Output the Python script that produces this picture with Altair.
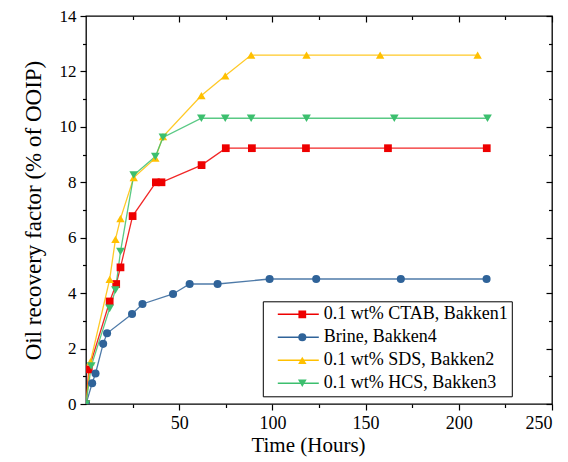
import altair as alt
import pandas as pd

# ---- data ----
names = ["0.1 wt% CTAB, Bakken1", "Brine, Bakken4", "0.1 wt% SDS, Bakken2", "0.1 wt% HCS, Bakken3"]
colors = ["#EE0000", "#2F6399", "#FFC000", "#3CBF6E"]
shapes = ["square", "circle", "triangle-up", "triangle-down"]
sizes = [60, 76, 110, 100]

t_ctab = [0, 1.5, 12.7, 16.2, 18.5, 25.0, 37.5, 40.5, 62.0, 75.0, 89.0, 118.0, 162.0, 215.0]
v_ctab = [0, 1.25, 3.70, 4.33, 4.93, 6.78, 8.00, 8.00, 8.62, 9.23, 9.23, 9.23, 9.23, 9.23]

t_brine = [0, 3.3, 5.1, 9.2, 11.3, 24.7, 30.3, 46.7, 55.6, 70.6, 98.5, 123.5, 168.9, 214.9]
v_brine = [0, 0.75, 1.10, 2.17, 2.55, 3.25, 3.61, 3.97, 4.33, 4.33, 4.51, 4.51, 4.51, 4.51]

t_sds = [0, 2.4, 12.7, 15.8, 18.5, 25.6, 37.2, 41.3, 61.9, 74.7, 88.6, 118.3, 157.8, 210.1]
v_sds = [0, 1.53, 4.50, 5.94, 6.69, 8.17, 8.87, 9.65, 11.13, 11.84, 12.59, 12.59, 12.59, 12.59]

t_hcs = [0, 2.8, 12.7, 15.8, 18.5, 25.6, 37.2, 41.3, 61.9, 74.7, 88.6, 118.3, 165.4, 215.4]
v_hcs = [0, 1.37, 3.45, 4.11, 5.50, 8.26, 8.93, 9.62, 10.31, 10.31, 10.31, 10.31, 10.31, 10.31]

x_major = [50, 100, 150, 200, 250]
x_minor = [25, 75, 125, 175, 225]
y_major = [0, 2, 4, 6, 8, 10, 12, 14]
y_minor = [1, 3, 5, 7, 9, 11, 13]

# ---- table ----
rows = []
for name, ts, vs in zip(names, [t_ctab, t_brine, t_sds, t_hcs], [v_ctab, v_brine, v_sds, v_hcs]):
    for t, v in zip(ts, vs):
        rows.append({"t": t, "v": v, "series": name, "pt": name + " "})
df = pd.DataFrame(rows)
pt_names = [n + " " for n in names]

W, H = 466, 388
FONT = "Liberation Serif"

xs = alt.Scale(domain=[0, 250], nice=False, zero=False)
ys = alt.Scale(domain=[0, 14], nice=False, zero=False)

LX, LY = 176.8, 285.3

leg_common = dict(
    title=None, orient="none", legendX=LX, legendY=LY,
    labelFont=FONT, labelFontSize=18, labelLimit=0,
    rowPadding=3, padding=3, clipHeight=20,
)
leg_lines = alt.Legend(
    symbolType="stroke", symbolSize=1681, symbolStrokeWidth=1.5,
    labelColor="black", labelOffset=4, symbolOffset=11,
    strokeColor="black", **leg_common,
)
leg_pts = alt.Legend(
    labelExpr="''", labelOffset=0, symbolOffset=27.5, symbolStrokeWidth=0,
    **leg_common,
)

base = alt.Chart(df)

ax_kw = dict(grid=False, domain=False, tickColor="black", tickWidth=1.2)

lines = base.mark_line(strokeWidth=1.3, clip=True, strokeOpacity=0.85).encode(
    x=alt.X("t:Q", scale=xs, axis=alt.Axis(values=x_major, tickSize=6, title="Time (Hours)",
                                          labelPadding=4, titlePadding=2, titleX=222,
                                          labelFontSize=18, orient="bottom", **ax_kw)),
    y=alt.Y("v:Q", scale=ys, axis=alt.Axis(values=y_major, tickSize=6, title="Oil recovery factor (% of OOIP)",
                                          labelPadding=4, titlePadding=14, titleFontSize=23,
                                          labelFontSize=17, orient="left", format="d", **ax_kw)),
    stroke=alt.Stroke("series:N", scale=alt.Scale(domain=names, range=colors), legend=leg_lines),
)

points = base.mark_point(filled=True, opacity=1, clip=True).encode(
    x=alt.X("t:Q", scale=xs, axis=alt.Axis(values=x_minor, tickSize=3.5, labels=False, title=None,
                                          orient="bottom", **ax_kw)),
    y=alt.Y("v:Q", scale=ys, axis=alt.Axis(values=y_minor, tickSize=3.5, labels=False, title=None,
                                          orient="left", **ax_kw)),
    fill=alt.Fill("pt:N", scale=alt.Scale(domain=pt_names, range=colors), legend=leg_pts),
    shape=alt.Shape("pt:N", scale=alt.Scale(domain=pt_names, range=shapes), legend=leg_pts),
    size=alt.Size("pt:N", scale=alt.Scale(domain=pt_names, range=sizes), legend=leg_pts),
)

top_major = base.mark_line(opacity=0).encode(
    x=alt.X("t:Q", scale=xs, axis=alt.Axis(values=x_major, tickSize=6, labels=False, title=None,
                                          orient="bottom", offset=-H, **ax_kw)),
    y=alt.Y("v:Q", scale=ys, axis=alt.Axis(values=y_major, tickSize=6, labels=False, title=None,
                                          orient="left", offset=-W, **ax_kw)),
    detail="series:N",
)
top_minor = base.mark_line(opacity=0).encode(
    x=alt.X("t:Q", scale=xs, axis=alt.Axis(values=x_minor, tickSize=3.5, labels=False, title=None,
                                          orient="bottom", offset=-H, **ax_kw)),
    y=alt.Y("v:Q", scale=ys, axis=alt.Axis(values=y_minor, tickSize=3.5, labels=False, title=None,
                                          orient="left", offset=-W, **ax_kw)),
    detail="series:N",
)

chart = alt.layer(lines, points, top_major, top_minor).resolve_axis(
    x="independent", y="independent"
).properties(
    width=W, height=H,
    autosize=alt.AutoSizeParams(type="none"),
    padding={"left": 78, "top": 8, "right": 8, "bottom": 56},
    background="white",
).configure_view(
    stroke="black", strokeWidth=1.3
).configure_axis(
    labelFont=FONT, labelFontSize=18, labelColor="black",
    titleFont=FONT, titleFontSize=21, titleColor="black", titleFontWeight="normal",
)

chart.save("out.html", embed_options={"renderer": "svg", "actions": False})
